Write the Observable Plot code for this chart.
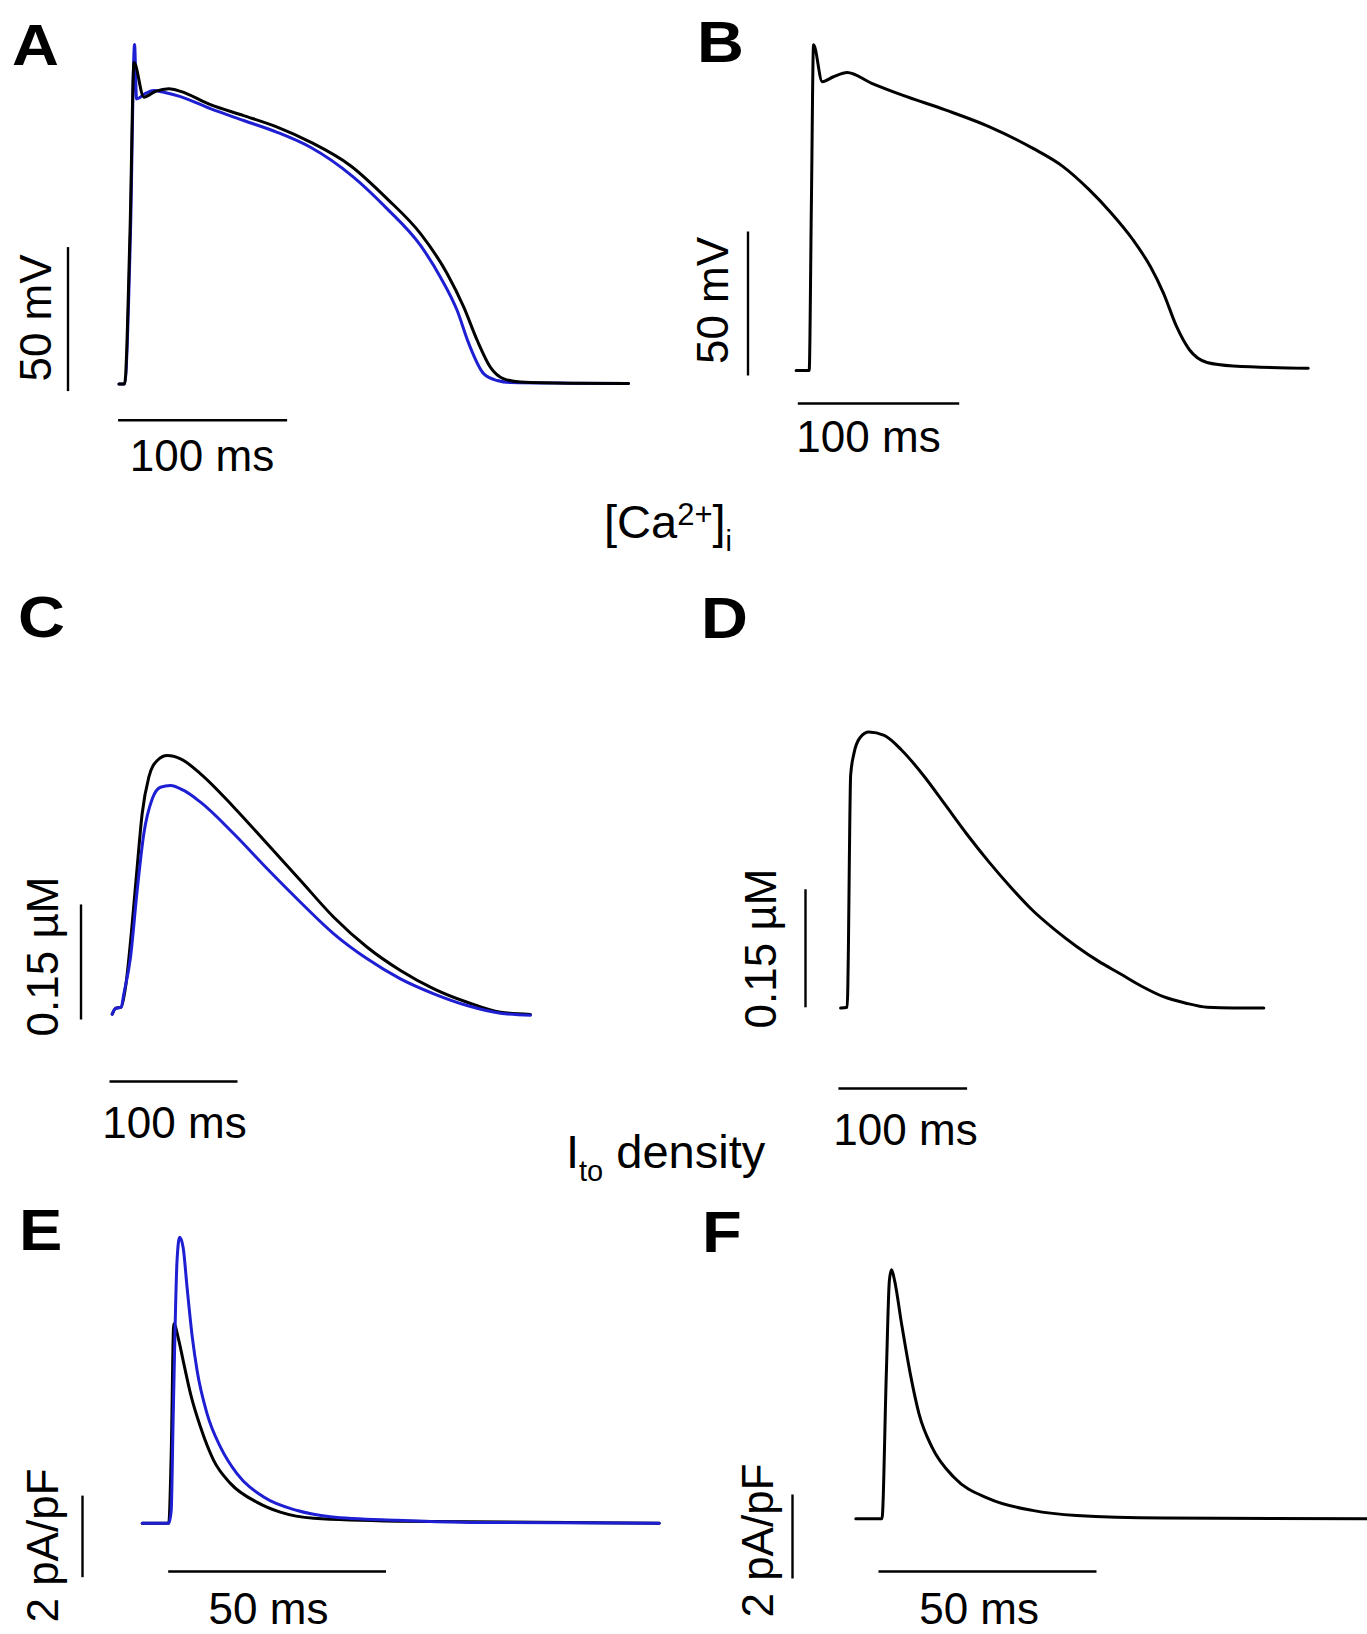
<!DOCTYPE html>
<html><head><meta charset="utf-8">
<script src="https://cdn.jsdelivr.net/npm/d3@7"></script>
<script src="https://cdn.jsdelivr.net/npm/@observablehq/plot@0.6"></script>
<style>
html,body{margin:0;padding:0;background:#fff;}
#fig{position:relative;width:1367px;height:1634px;overflow:hidden;background:#fff;font-family:"Liberation Sans",Arial,sans-serif;color:#000;}
.letter{position:absolute;font-weight:bold;font-size:58px;line-height:1;transform:scaleX(1.12);transform-origin:0 0;}
.title{position:absolute;font-size:47px;line-height:1;white-space:nowrap;}
.sup{font-size:31px;position:relative;top:-13px;}
.sub{font-size:29px;position:relative;top:13px;}
</style></head><body><div id="fig"></div>
<script>
// ================= DATA =================
const BLACK = "#000000", BLUE = "#1e1ed2";
const panelLetters = ["A","B","C","D","E","F"];
const barXLen = [100, 100, 100, 100, 50, 50];
const barYLen = [50, 50, 0.15, 0.15, 2, 2];
const barXLabels = ["100 ms","100 ms","100 ms","100 ms","50 ms","50 ms"];
const barYLabels = ["50 mV","50 mV","0.15 \u00b5M","0.15 \u00b5M","2 pA/pF","2 pA/pF"];

// A: action potential (ms, mV)
const apA_black_t = [0,3.3,6.5,8.9,14.7,21.6,29.5,36.4,54.1,73.7,93.6,113.3,137,158.7,178.4,194.2,204,212,219.8,227.7,237.6,267,301.5];
const apA_black_v = [-86,-86,-33.4,25.6,13.6,15.6,16.5,15.6,11.0,7.2,3.2,-2.0,-10.2,-21.7,-33.8,-47.7,-59.3,-70.9,-80.2,-84.2,-85.3,-85.7,-85.8];
const apA_blue_t = [0,3.3,6.8,9.2,10.4,15.7,20.6,26.5,36.4,54.1,73.7,93.6,113.3,138.2,158.7,178.4,190.2,200.1,207,215.9,223.8,231.7,267,301.5];
const apA_blue_v = [-86,-86,-33.4,31.9,13.0,14.9,15.9,15.3,13.8,9.6,5.5,1.4,-3.8,-13.9,-25.2,-37.9,-48.9,-60.5,-72.0,-82.5,-84.8,-85.5,-85.7,-85.8];
// B: action potential (ms, mV)
const apB_black_t = [0,8.1,9.5,10.8,16.2,23.2,31.6,46.5,65.4,92.4,119.5,146.5,165.4,181.7,195.2,208.7,219.5,227.6,235.7,243.7,254.6,270.8,317.3];
const apB_black_v = [-86,-86,-26.7,27.1,14.3,16.0,17.5,13.8,9.7,4.5,-1.3,-8.8,-15.2,-23.3,-31.3,-40.6,-49.9,-59.1,-70.7,-78.8,-83.2,-84.4,-85.2];
// C: [Ca2+]i (ms, uM)
const caC_black_t = [0,2.6,7.0,10.4,15.6,19.5,23.4,28.6,35.2,43.0,53.4,69.0,95.0,121.1,147.1,173.1,199.2,225.2,251.3,277.3,303.4,326.8];
const caC_black_c = [0.0995,0.107,0.1086,0.1347,0.2173,0.2911,0.3608,0.4085,0.4303,0.4368,0.4325,0.4129,0.3694,0.3216,0.2738,0.2259,0.1868,0.1565,0.1326,0.1151,0.1021,0.0991];
const caC_blue_t = [0,2.6,7.0,9.1,14.3,19.5,24.7,31.3,37.7,45.5,55.9,69.0,95.0,121.1,147.1,173.1,199.2,225.2,251.3,277.3,303.4,326.8];
const caC_blue_c = [0.0995,0.107,0.1086,0.1261,0.1738,0.2608,0.3347,0.3803,0.3954,0.3977,0.3912,0.3759,0.3347,0.2891,0.2455,0.2043,0.1717,0.1456,0.1261,0.1108,0.1008,0.0982];
// D: [Ca2+]i (ms, uM)
const caD_black_t = [0,5.1,6.1,6.8,7.8,10.2,15.2,22.0,33.9,47.5,64.4,81.4,98.3,115.2,132.2,149.1,166.1,183.1,200.0,216.9,233.9,250.8,267.8,284.8,305.0,328.8];
const caD_black_c = [0.1,0.101,0.1814,0.2884,0.3956,0.4224,0.4438,0.4507,0.4464,0.4277,0.3956,0.3581,0.3206,0.2858,0.2536,0.2243,0.2001,0.1787,0.16,0.144,0.1278,0.1145,0.1065,0.101,0.1,0.1];
// E: Ito density (ms, pA/pF)
const itoE_black_t = [0,6.1,6.66,7.25,8.4,9.55,11.1,13.4,16.4,20.3,26.4,31.7,39.4,58.5,118.7];
const itoE_black_i = [0,0,1.70,4.89,4.48,3.91,3.17,2.35,1.54,0.97,0.51,0.27,0.12,0.05,0];
const itoE_blue_t = [0,6.1,6.66,7.1,8.0,8.6,9.4,10.3,11.5,12.6,14.9,18.0,21.8,27.9,35.6,43.2,58.5,75.4,118.7];
const itoE_blue_i = [0,0,0.31,2.52,6.44,7.01,6.76,5.78,4.56,3.74,2.68,1.86,1.21,0.64,0.31,0.16,0.07,0.02,0];
// F: Ito density (ms, pA/pF)
const itoF_black_t = [0,6.0,7.0,7.7,8.2,8.9,10.5,12.5,14.5,17.5,22.5,30.5,40.5,50.6,70.6,117.4];
const itoF_black_i = [0,0,3.45,5.67,5.93,5.67,4.64,3.45,2.5,1.70,0.99,0.48,0.20,0.08,0.02,0];

// ================= LAYOUT (page pixels) =================
const layout = [
  {box:[0,0,683,560],     ox:118.5, oy:383.5,  v0:-86, kx:1.69,  ky:2.88, vbar:[67.5,390.6],  hbar:[117.6,419.8], xlab:[201.5,439],  ylab:[50,317.5], letter:[12,65]},
  {box:[683,0,684,560],   ox:795.6, oy:370,    v0:-86, kx:1.614, ky:2.88, vbar:[747.5,375],   hbar:[797.3,403],   xlab:[868,420],    ylab:[727,300],  letter:[697,62.5]},
  {box:[0,560,683,600],   ox:111.7, oy:1013.3, v0:0.1, kx:1.28,  ky:767,  vbar:[80.5,1019],   hbar:[109,1081],    xlab:[174,1106],   ylab:[57,956],   letter:[18,637]},
  {box:[683,560,684,600], ox:840.1, oy:1007.6, v0:0.1, kx:1.287, ky:787,  vbar:[805,1006.8],  hbar:[837.9,1088],  xlab:[905,1113],   ylab:[775,948],  letter:[701,638]},
  {box:[0,1160,683,474],  ox:141.7, oy:1522.7, v0:0,   kx:4.356, ky:40.8, vbar:[82,1576.7],   hbar:[167.7,1571],  xlab:[268,1592],   ylab:[57,1545],  letter:[19,1250]},
  {box:[683,1160,684,474],ox:855.3, oy:1518.3, v0:0,   kx:4.36,  ky:42,   vbar:[792,1578],    hbar:[878,1571],    xlab:[978.6,1592], ylab:[772,1540], letter:[702,1252]}
];

const series = [
  [{t:apA_blue_t, v:apA_blue_v, c:BLUE}, {t:apA_black_t, v:apA_black_v, c:BLACK}],
  [{t:apB_black_t, v:apB_black_v, c:BLACK}],
  [{t:caC_black_t, v:caC_black_c, c:BLACK}, {t:caC_blue_t, v:caC_blue_c, c:BLUE}],
  [{t:caD_black_t, v:caD_black_c, c:BLACK}],
  [{t:itoE_black_t, v:itoE_black_i, c:BLACK}, {t:itoE_blue_t, v:itoE_blue_i, c:BLUE}],
  [{t:itoF_black_t, v:itoF_black_i, c:BLACK}]
];

// ================= DRAW =================
const fig = document.getElementById("fig");
const FONT = "Liberation Sans, Arial, sans-serif";

layout.forEach((P, i) => {
  const [L, T, W, H] = P.box;
  const tx = p => (p - P.ox) / P.kx;
  const vy = p => P.v0 + (P.oy - p) / P.ky;
  const marks = [];
  series[i].forEach(s => {
    const data = s.t.map((t, j) => ({t, v: s.v[j]}));
    marks.push(Plot.line(data, {x: "t", y: "v", stroke: s.c, strokeWidth: 3, curve: "monotone-x"}));
  });
  const bx = tx(P.vbar[0]), bb = vy(P.vbar[1]);
  marks.push(Plot.line([{t: bx, v: bb}, {t: bx, v: bb + barYLen[i]}],
    {x: "t", y: "v", stroke: "#000", strokeWidth: 2.4, strokeLinecap: "butt"}));
  const hx = tx(P.hbar[0]), hy = vy(P.hbar[1]);
  marks.push(Plot.line([{t: hx, v: hy}, {t: hx + barXLen[i], v: hy}],
    {x: "t", y: "v", stroke: "#000", strokeWidth: 2.4, strokeLinecap: "butt"}));
  marks.push(Plot.text([{t: tx(P.xlab[0]), v: vy(P.xlab[1]), s: barXLabels[i]}],
    {x: "t", y: "v", text: "s", fontSize: 44, lineAnchor: "top", textAnchor: "middle", fill: "#000"}));
  marks.push(Plot.text([{t: tx(P.ylab[0]), v: vy(P.ylab[1]), s: barYLabels[i]}],
    {x: "t", y: "v", text: "s", fontSize: 44, lineAnchor: "bottom", textAnchor: "middle", rotate: -90, fill: "#000"}));
  const svg = Plot.plot({
    width: W, height: H, margin: 0,
    x: {domain: [tx(L), tx(L + W)], range: [0, W], axis: null},
    y: {domain: [vy(T + H), vy(T)], range: [H, 0], axis: null},
    style: {background: "transparent", overflow: "visible", fontFamily: FONT},
    marks
  });
  svg.style.position = "absolute";
  svg.style.left = L + "px";
  svg.style.top = T + "px";
  fig.appendChild(svg);

  const d = document.createElement("div");
  d.className = "letter";
  d.textContent = panelLetters[i];
  d.style.left = P.letter[0] + "px";
  d.style.top = (P.letter[1] - 0.8465 * 58) + "px";
  fig.appendChild(d);
});

// section titles
function addTitle(html, left, baseline) {
  const d = document.createElement("div");
  d.className = "title";
  d.innerHTML = html;
  d.style.left = left + "px";
  d.style.top = (baseline - 0.8465 * 47) + "px";
  fig.appendChild(d);
}
addTitle('[Ca<span class="sup">2+</span>]<span class="sub">i</span>', 604, 538);
addTitle('I<span class="sub">to</span> density', 566, 1168);
</script>
</body></html>
